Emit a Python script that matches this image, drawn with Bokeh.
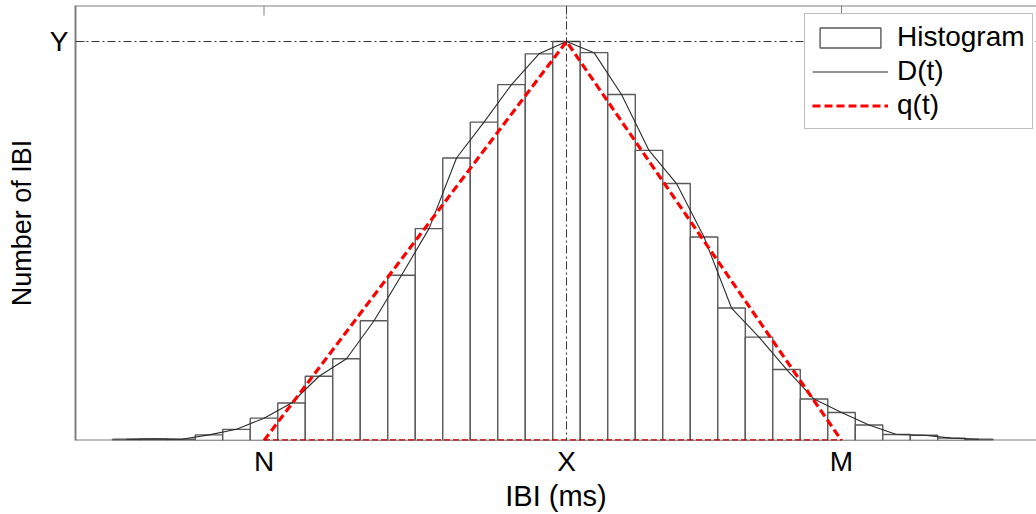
from bokeh.plotting import figure
from bokeh.models import Range1d, Span, Legend, LegendItem, FixedTicker
from bokeh.embed import file_html
from bokeh.resources import INLINE

# Histogram of inter-beat intervals (bin index relative to the modal bin X)
bin_centers = list(range(-16, 16))
counts = [0.3, 0.4, 0.3, 1.4, 2.8, 5.6, 9.4, 16.1, 20.5, 30.0, 41.4, 53.1,
          70.8, 79.8, 89.2, 96.9, 100.0, 97.2, 86.7, 72.7, 64.4, 51.0, 33.2,
          25.9, 17.8, 10.4, 7.0, 3.9, 1.5, 1.3, 0.6, 0.3]
# D(t): density joining the bin tops
d_values = counts

# q(t): triangular interpolation N -> X -> M with apex height Y
N_pos, X_pos, M_pos = -11, 0, 10
Y_val = 100
x_ticks = [N_pos, X_pos, M_pos]
x_tick_labels = {N_pos: "N", X_pos: "X", M_pos: "M"}
y_tick_labels = {Y_val: "Y"}

FONT = "Liberation Sans"
FRAME = "#7f7f7f"
X_LO, X_HI = -17.855, 17.09
Y_LO, Y_HI = 0, 109.02
FRAME_PX = 435          # plot-area height in pixels
TICK_PX = 10            # inward tick length

p = figure(width=1036, height=514, output_backend="svg", toolbar_location=None,
           x_range=Range1d(X_LO, X_HI), y_range=Range1d(Y_LO, Y_HI),
           min_border_left=75, min_border_right=0, min_border_top=5,
           min_border_bottom=74, background_fill_color="white",
           border_fill_color="white")
p.outline_line_color = None
p.grid.visible = False

# bottom edge of the box, kept beneath the data
p.add_layout(Span(location=Y_LO, dimension="width", line_color=FRAME,
                  line_width=2, level="underlay"))

left_edges = [c - 0.5 for c in bin_centers]
right_edges = [c + 0.5 for c in bin_centers]
hist = p.quad(left=left_edges, right=right_edges, bottom=0, top=counts,
              fill_color="white", line_color="#5a5a5a", line_width=1.4)
dline = p.line(bin_centers, d_values, line_color="#2b2b2b", line_width=1.1)
qline = p.line([N_pos, X_pos, M_pos], [0, Y_val, 0], line_color="#ff0000",
               line_width=3.2, line_dash="8 4")
p.line([N_pos, M_pos], [0, 0], line_color="#c00000", line_width=2.5,
       line_dash="6 3")

# dash-dot guides through the apex
p.add_layout(Span(location=X_pos, dimension="height", line_color="#333333",
                  line_width=1, line_dash="8 3 2 3"))
p.add_layout(Span(location=Y_val, dimension="width", line_color="#333333",
                  line_width=1, line_dash="8 3 2 3"))

# top edge of the box with inward ticks
p.add_layout(Span(location=Y_HI, dimension="width", line_color=FRAME,
                  line_width=2))
tick_len = TICK_PX * (Y_HI - Y_LO) / FRAME_PX
p.segment(x0=x_ticks, y0=[Y_HI] * len(x_ticks), x1=x_ticks,
          y1=[Y_HI - tick_len] * len(x_ticks), line_color=FRAME, line_width=1)

# bottom axis (labels only; its line is the span above)
xa = p.xaxis[0]
xa.ticker = FixedTicker(ticks=x_ticks)
xa.major_label_overrides = x_tick_labels
xa.major_tick_in = 0
xa.major_tick_out = 0
xa.minor_tick_line_color = None
xa.axis_line_color = None
xa.major_label_standoff = 5
xa.major_label_text_font = FONT
xa.major_label_text_font_size = "28px"
xa.major_label_text_color = "black"
xa.axis_label = "IBI (ms)"
xa.axis_label_text_font = FONT
xa.axis_label_text_font_size = "29px"
xa.axis_label_text_font_style = "normal"
xa.axis_label_text_color = "black"
xa.axis_label_standoff = 0

# left axis
ya = p.yaxis[0]
ya.ticker = FixedTicker(ticks=[Y_val])
ya.major_label_overrides = y_tick_labels
ya.major_tick_in = 10
ya.major_tick_out = 0
ya.major_tick_line_color = FRAME
ya.minor_tick_line_color = None
ya.axis_line_color = FRAME
ya.axis_line_width = 2
ya.major_label_standoff = 7
ya.major_label_text_font = FONT
ya.major_label_text_font_size = "28px"
ya.major_label_text_color = "black"
ya.axis_label = "Number of IBI"
ya.axis_label_text_font = FONT
ya.axis_label_text_font_size = "27px"
ya.axis_label_text_font_style = "normal"
ya.axis_label_text_color = "black"
ya.axis_label_standoff = 10

legend = Legend(items=[LegendItem(label="Histogram", renderers=[hist]),
                       LegendItem(label="D(t)", renderers=[dline]),
                       LegendItem(label="q(t)", renderers=[qline])],
                location=(729, 311), label_text_font=FONT,
                label_text_font_size="28px", label_text_color="black",
                glyph_width=76, glyph_height=25, label_standoff=9,
                padding=7, spacing=2, margin=0,
                border_line_color=FRAME, border_line_width=1.5,
                background_fill_color="white", background_fill_alpha=1.0)
p.add_layout(legend)

open("out.html", "w").write(file_html(p, INLINE))
